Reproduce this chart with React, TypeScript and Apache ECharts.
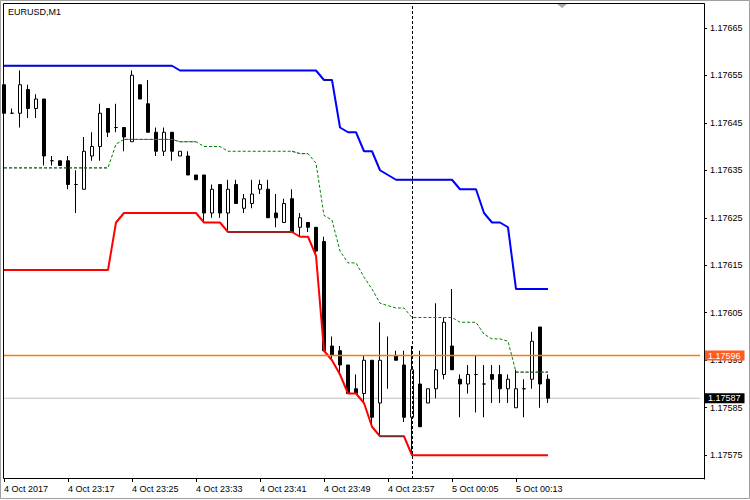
import React, { useEffect, useRef } from "react";
import * as echarts from "echarts";

// ---- data ----
const SYMBOL_TITLE = "EURUSD,M1";
const START_MINUTE = 23 * 60 + 9; // 4 Oct 23:09
const TOTAL_SLOTS = 88;

const xTickLabels = [
  "4 Oct 2017",
  "4 Oct 23:17",
  "4 Oct 23:25",
  "4 Oct 23:33",
  "4 Oct 23:41",
  "4 Oct 23:49",
  "4 Oct 23:57",
  "5 Oct 00:05",
  "5 Oct 00:13",
];

const yTickValues = [
  1.17575, 1.17585, 1.17595, 1.17605, 1.17615, 1.17625, 1.17635, 1.17645,
  1.17655, 1.17665,
];

// [open, close, low, high]
const candles = [
  [1.17653, 1.17647, 1.17647, 1.17653],
  [1.17647, 1.17647, 1.17647, 1.17648],
  [1.17647, 1.17653, 1.17644, 1.17656],
  [1.17652, 1.17648, 1.17646, 1.17653],
  [1.17648, 1.1765, 1.17646, 1.17651],
  [1.1765, 1.17638, 1.17636, 1.1765],
  [1.17637, 1.17637, 1.17636, 1.17638],
  [1.17637, 1.17636, 1.17636, 1.17637],
  [1.17637, 1.17632, 1.17631, 1.17638],
  [1.17632, 1.17632, 1.17626, 1.17635],
  [1.17631, 1.17639, 1.17631, 1.17642],
  [1.17638, 1.1764, 1.17637, 1.17643],
  [1.1764, 1.17647, 1.17637, 1.17649],
  [1.17648, 1.17643, 1.17642, 1.17648],
  [1.17644, 1.17644, 1.17643, 1.17649],
  [1.17644, 1.17642, 1.17639, 1.17644],
  [1.17641, 1.17655, 1.17641, 1.17656],
  [1.17653, 1.1765, 1.1765, 1.17653],
  [1.17649, 1.17643, 1.17643, 1.17654],
  [1.17643, 1.17639, 1.17638, 1.17644],
  [1.17639, 1.17643, 1.17638, 1.17644],
  [1.17643, 1.17639, 1.17637, 1.17643],
  [1.17638, 1.17639, 1.17638, 1.17639],
  [1.17638, 1.17634, 1.17634, 1.17639],
  [1.17634, 1.17633, 1.17633, 1.17634],
  [1.17634, 1.17626, 1.17624, 1.17634],
  [1.17626, 1.17631, 1.17625, 1.17632],
  [1.17632, 1.17626, 1.17625, 1.17632],
  [1.17626, 1.17631, 1.17622, 1.17633],
  [1.17632, 1.17628, 1.17628, 1.17633],
  [1.17627, 1.17629, 1.17626, 1.1763],
  [1.17628, 1.1763, 1.17627, 1.17633],
  [1.17631, 1.17632, 1.1763, 1.17633],
  [1.17631, 1.17625, 1.17625, 1.17633],
  [1.17626, 1.17625, 1.17623, 1.1763],
  [1.17624, 1.17628, 1.17624, 1.17629],
  [1.17629, 1.17622, 1.17622, 1.17631],
  [1.17623, 1.17625, 1.17621, 1.17626],
  [1.17624, 1.17623, 1.17622, 1.17624],
  [1.17623, 1.17618, 1.17617, 1.17623],
  [1.1762, 1.17597, 1.17597, 1.17621],
  [1.17598, 1.17596, 1.17595, 1.176],
  [1.17597, 1.17594, 1.17592, 1.17598],
  [1.17594, 1.17588, 1.17588, 1.17594],
  [1.17589, 1.17588, 1.17588, 1.17592],
  [1.17588, 1.17595, 1.17586, 1.17596],
  [1.17595, 1.17583, 1.17581, 1.17595],
  [1.17586, 1.17595, 1.17579, 1.17603],
  [1.17596, 1.17596, 1.17589, 1.176],
  [1.17596, 1.17595, 1.17595, 1.17597],
  [1.17594, 1.17583, 1.17582, 1.17597],
  [1.17583, 1.17593, 1.17575, 1.17598],
  [1.1759, 1.17581, 1.17581, 1.17597],
  [1.17586, 1.17589, 1.17586, 1.17589],
  [1.17589, 1.17593, 1.17587, 1.17607],
  [1.17592, 1.17603, 1.17591, 1.17604],
  [1.17598, 1.17593, 1.17593, 1.1761],
  [1.17591, 1.1759, 1.17583, 1.17592],
  [1.1759, 1.17592, 1.17588, 1.17594],
  [1.17592, 1.17592, 1.17584, 1.17596],
  [1.1759, 1.1759, 1.17583, 1.17594],
  [1.17592, 1.17591, 1.17586, 1.17594],
  [1.17592, 1.17589, 1.17586, 1.17594],
  [1.17589, 1.17591, 1.17586, 1.17592],
  [1.17585, 1.17589, 1.17585, 1.17593],
  [1.17589, 1.17589, 1.17583, 1.17591],
  [1.17591, 1.17599, 1.17589, 1.17601],
  [1.17602, 1.1759, 1.17585, 1.17602],
  [1.17591, 1.17587, 1.17586, 1.17592],
];

const upperBand = [
  1.17657, 1.17657, 1.17657, 1.17657, 1.17657, 1.17657, 1.17657, 1.17657,
  1.17657, 1.17657, 1.17657, 1.17657, 1.17657, 1.17657, 1.17657, 1.17657,
  1.17657, 1.17657, 1.17657, 1.17657, 1.17657, 1.17657, 1.17656, 1.17656,
  1.17656, 1.17656, 1.17656, 1.17656, 1.17656, 1.17656, 1.17656, 1.17656,
  1.17656, 1.17656, 1.17656, 1.17656, 1.17656, 1.17656, 1.17656, 1.17656,
  1.17654, 1.17654, 1.17644, 1.17643, 1.17643, 1.17639, 1.17639, 1.17635,
  1.17634, 1.17633, 1.17633, 1.17633, 1.17633, 1.17633, 1.17633, 1.17633,
  1.17633, 1.17631, 1.17631, 1.17631, 1.17626, 1.17624, 1.17624, 1.17623,
  1.1761, 1.1761, 1.1761, 1.1761, 1.1761,
];

const lowerBand = [
  1.17614, 1.17614, 1.17614, 1.17614, 1.17614, 1.17614, 1.17614, 1.17614,
  1.17614, 1.17614, 1.17614, 1.17614, 1.17614, 1.17614, 1.17624, 1.17626,
  1.17626, 1.17626, 1.17626, 1.17626, 1.17626, 1.17626, 1.17626, 1.17626,
  1.17626, 1.17624, 1.17624, 1.17624, 1.17622, 1.17622, 1.17622, 1.17622,
  1.17622, 1.17622, 1.17622, 1.17622, 1.17622, 1.17621, 1.17621, 1.17617,
  1.17597, 1.17595, 1.17592, 1.17588, 1.17588, 1.17586, 1.17581, 1.17579,
  1.17579, 1.17579, 1.17579, 1.17575, 1.17575, 1.17575, 1.17575, 1.17575,
  1.17575, 1.17575, 1.17575, 1.17575, 1.17575, 1.17575, 1.17575, 1.17575,
  1.17575, 1.17575, 1.17575, 1.17575, 1.17575,
];

const middleBand = [
  1.176355, 1.176355, 1.176355, 1.176355, 1.176355, 1.176355, 1.176355,
  1.176355, 1.176355, 1.176355, 1.176355, 1.176355, 1.176355, 1.176355,
  1.176405, 1.176415, 1.176415, 1.176415, 1.176415, 1.176415, 1.176415,
  1.176415, 1.17641, 1.17641, 1.17641, 1.1764, 1.1764, 1.1764, 1.17639,
  1.17639, 1.17639, 1.17639, 1.17639, 1.17639, 1.17639, 1.17639, 1.17639,
  1.176385, 1.176385, 1.176365, 1.176255, 1.176245, 1.17618, 1.176155,
  1.176155, 1.176125, 1.1761, 1.17607, 1.176065, 1.17606, 1.17606, 1.17604,
  1.17604, 1.17604, 1.17604, 1.17604, 1.17604, 1.17603, 1.17603, 1.17603,
  1.176005, 1.175995, 1.175995, 1.17599, 1.175925, 1.175925, 1.175925,
  1.175925, 1.175925,
];

// index ranges where the lines are drawn in their darker shade
const upperDarkRanges = [[0, 21], [40, 41], [49, 56]];
const lowerDarkRanges = [[28, 36], [47, 50]];
const middleGrayRanges = [[0, 13], [15, 24], [36, 38], [64, 68]];

const askPrice = 1.17596;
const bidPrice = 1.17587;
const separatorIndex = 51;

const Y_MIN = 1.1757;
const Y_MAX = 1.1767;

// ---- helpers ----
const pad2 = (n: number) => (n < 10 ? "0" + n : "" + n);
const categories = Array.from({ length: TOTAL_SLOTS }, (_, i) => {
  const m = (START_MINUTE + i) % 1440;
  return pad2(Math.floor(m / 60)) + ":" + pad2(m % 60);
});
const mask = (arr: number[], ranges: number[][]) =>
  arr.map((v, i) => (ranges.some(([a, b]) => i >= a && i <= b) ? v : null));

const FONT = "'Liberation Sans', Arial, sans-serif";
const tickFn = (idx: number) => idx % 8 === 0 && idx / 8 < xTickLabels.length;

const priceLabel = (bg: string, text: string) => ({
  show: true,
  distance: 4,
  formatter: text,
  backgroundColor: bg,
  color: "#ffffff",
  fontSize: 9,
  fontFamily: FONT,
  padding: [1, 4, 0, 4],
});

export default function App() {
  const ref = useRef<HTMLDivElement>(null);
  useEffect(() => {
    if (!ref.current) return;
    const chart = echarts.init(ref.current, undefined, { renderer: "svg" });
    const option: any = {
      animation: false,
      backgroundColor: "#ffffff",
      textStyle: { fontFamily: FONT },
      title: {
        text: SYMBOL_TITLE,
        left: 8,
        top: 7,
        padding: 0,
        textStyle: { fontSize: 9, fontWeight: "normal", color: "#000", fontFamily: FONT },
      },
      grid: { left: 0, right: 46, top: 4, bottom: 21 },
      xAxis: {
        type: "category",
        data: categories,
        boundaryGap: true,
        axisLine: { show: false },
        axisTick: {
          show: true,
          alignWithLabel: true,
          interval: tickFn,
          length: 3,
          lineStyle: { color: "#000" },
        },
        axisLabel: {
          interval: tickFn,
          align: "left",
          margin: 5,
          fontSize: 9,
          color: "#000",
          fontFamily: FONT,
          formatter: (_v: string, idx: number) => xTickLabels[idx / 8] ?? "",
        },
        splitLine: { show: false },
      },
      yAxis: {
        type: "value",
        position: "right",
        min: Y_MIN,
        max: Y_MAX,
        axisLine: { show: true, lineStyle: { color: "#000" } },
        axisTick: {
          show: true,
          length: 3,
          customValues: yTickValues,
          lineStyle: { color: "#000" },
        },
        axisLabel: {
          customValues: yTickValues,
          margin: 6,
          fontSize: 9,
          color: "#000",
          fontFamily: FONT,
          formatter: (v: number) => v.toFixed(5),
        },
        splitLine: { show: false },
      },
      series: [
        {
          type: "line",
          name: "Bid",
          color: "#c0c0c0",
          data: categories.map(() => bidPrice),
          symbol: "none",
          lineStyle: { color: "#c0c0c0", width: 1 },
          endLabel: priceLabel("#000000", bidPrice.toFixed(5)),
          emphasis: { disabled: true },
          z: 1,
        },
        {
          type: "line",
          name: "Ask",
          color: "#ff7a00",
          data: categories.map(() => askPrice),
          symbol: "none",
          lineStyle: { color: "#ff7a00", width: 1.4, opacity: 1 },
          endLabel: priceLabel("#ff5a1f", askPrice.toFixed(5)),
          emphasis: { disabled: true },
          z: 5,
        },
        {
          type: "candlestick",
          name: "EURUSD",
          data: candles,
          barWidth: 4,
          itemStyle: {
            color: "#ffffff",
            color0: "#000000",
            borderColor: "#000000",
            borderColor0: "#000000",
            borderWidth: 1,
          },
          markLine: {
            silent: true,
            symbol: ["none", "none"],
            animation: false,
            data: [
              {
                xAxis: categories[separatorIndex],
                lineStyle: { color: "#000000", width: 1, type: [3, 2] },
                label: { show: false },
              },
            ],
          },
          z: 2,
        },
        {
          type: "line",
          name: "Middle",
          data: middleBand,
          symbol: "none",
          lineStyle: { color: "#008000", width: 1, type: [3, 2] },
          z: 3,
        },
        {
          type: "line",
          name: "Middle (flat)",
          data: mask(middleBand, middleGrayRanges),
          symbol: "none",
          connectNulls: false,
          lineStyle: { color: "#505050", width: 1, type: [3, 2] },
          z: 4,
        },
        {
          type: "line",
          name: "Upper",
          data: upperBand,
          symbol: "none",
          lineStyle: { color: "#0000ff", width: 2 },
          z: 3,
        },
        {
          type: "line",
          name: "Upper (dark)",
          data: mask(upperBand, upperDarkRanges),
          symbol: "none",
          connectNulls: false,
          lineStyle: { color: "#1a1a40", width: 1 },
          z: 4,
        },
        {
          type: "line",
          name: "Lower",
          data: lowerBand,
          symbol: "none",
          lineStyle: { color: "#ff0000", width: 2 },
          z: 3,
        },
        {
          type: "line",
          name: "Lower (dark)",
          data: mask(lowerBand, lowerDarkRanges),
          symbol: "none",
          connectNulls: false,
          lineStyle: { color: "#404040", width: 1 },
          z: 4,
        },
      ],
      graphic: [
        {
          type: "rect",
          silent: true,
          z: 100,
          shape: { x: 3.5, y: 3.5, width: 701, height: 475 },
          style: { fill: "none", stroke: "#000000", lineWidth: 1 },
        },
        {
          type: "polygon",
          silent: true,
          z: 100,
          shape: { points: [[557, 4], [567, 4], [562, 8]] },
          style: { fill: "#a8a8a8" },
        },
        {
          type: "rect",
          silent: true,
          z: 100,
          shape: { x: 0.5, y: 0.5, width: 749, height: 498 },
          style: { fill: "none", stroke: "#a0a0a0", lineWidth: 1 },
        },
      ],
    };
    chart.setOption(option);
    return () => chart.dispose();
  }, []);
  return (
    <div
      ref={ref}
      style={{ position: "fixed", left: 0, top: 0, width: 750, height: 500, background: "#fff" }}
    />
  );
}
